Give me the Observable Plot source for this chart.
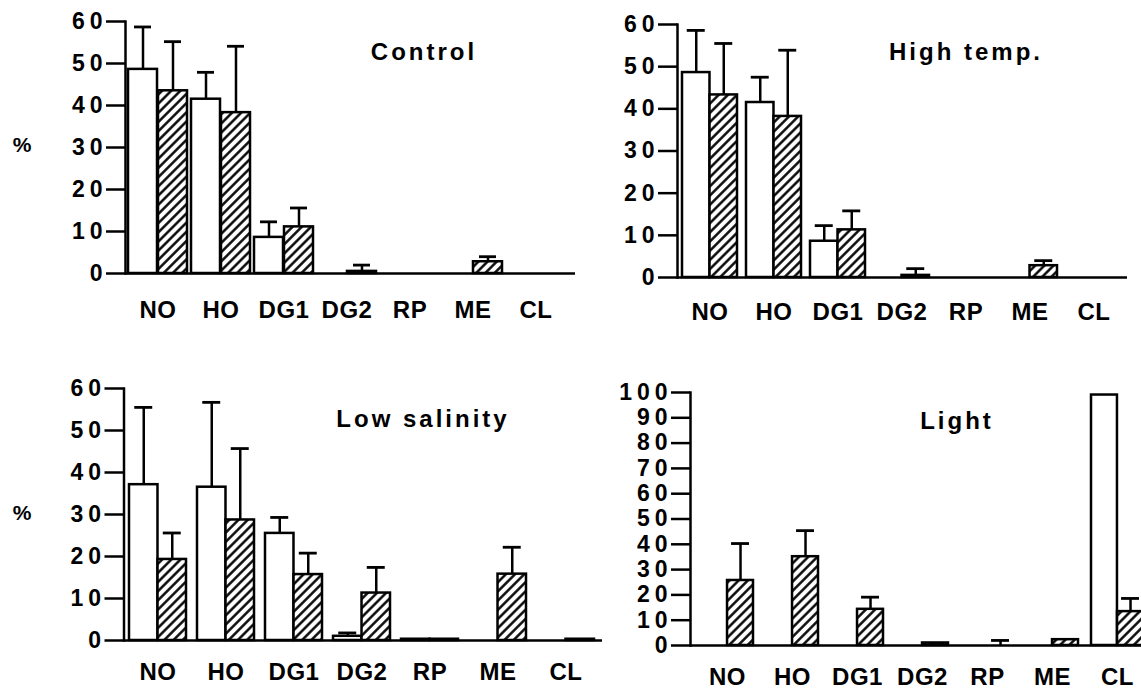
<!DOCTYPE html>
<html><head><meta charset="utf-8">
<script src="https://cdn.jsdelivr.net/npm/d3@7"></script>
<script src="https://cdn.jsdelivr.net/npm/@observablehq/plot@0.6"></script>
<style>
body{margin:0;background:#fff;}
#wrap{position:relative;width:1141px;height:693px;overflow:hidden;font-family:"Liberation Sans",Arial,Helvetica,sans-serif;}
.lbl{position:absolute;font-weight:bold;white-space:nowrap;line-height:1;color:#000;transform:translateX(-50%);}
</style></head><body>
<svg width="0" height="0" style="position:absolute"><defs>
<pattern id="hatch" patternUnits="userSpaceOnUse" width="6.5" height="6.5" patternTransform="rotate(45)">
<rect width="6.5" height="6.5" fill="white"/><line x1="3.25" y1="-1" x2="3.25" y2="7.5" stroke="black" stroke-width="2.4"/>
</pattern></defs></svg>
<div id="wrap"></div>
<script>
// ---- data ----
const categories = ["NO", "HO", "DG1", "DG2", "RP", "ME", "CL"];
const ticks60 = [0, 10, 20, 30, 40, 50, 60];
const ticks100 = [0, 10, 20, 30, 40, 50, 60, 70, 80, 90, 100];

const controlOpen     = [48.6, 41.5, 8.6, 0, 0, 0, 0];
const controlOpenSD   = [10.1, 6.4, 3.7, 0, 0, 0, 0];
const controlHatch    = [43.5, 38.3, 11.1, 0.5, 0, 2.8, 0];
const controlHatchSD  = [11.7, 15.8, 4.5, 1.5, 0, 1.2, 0];

const highOpen        = [48.6, 41.5, 8.6, 0, 0, 0, 0];
const highOpenSD      = [10.0, 6.0, 3.7, 0, 0, 0, 0];
const highHatch       = [43.3, 38.2, 11.3, 0.5, 0, 2.8, 0];
const highHatchSD     = [12.2, 15.7, 4.5, 1.6, 0, 1.2, 0];

const salOpen         = [37.1, 36.5, 25.5, 1.0, 0.3, 0, 0];
const salOpenSD       = [18.4, 20.2, 3.8, 0.8, 0, 0, 0];
const salHatch        = [19.3, 28.7, 15.7, 11.3, 0.3, 15.8, 0.3];
const salHatchSD      = [6.3, 17.0, 5.1, 6.1, 0, 6.4, 0];

const lightOpen       = [0, 0, 0, 0, 0, 0, 99];
const lightOpenSD     = [0, 0, 0, 0, 0, 0, 0];
const lightHatch      = [25.7, 35.1, 14.3, 1.0, 0, 2.3, 13.4];
const lightHatchSD    = [14.6, 10.3, 4.8, 0, 2.0, 0, 5.2];

const titles = ["Control", "High temp.", "Low salinity", "Light"];

// ---- layout ----
const W = 1141, H = 693;
const wrap = document.getElementById("wrap");

function panel(cfg, open, openSD, hatch, hatchSD, yTicks, yMax) {
  const n = categories.length;
  const step = (cfg.bandEnd - cfg.bandStart) / (n - cfg.pad);
  const bw = step * (1 - cfg.pad);
  const cap = 9;
  const rows = categories.map((c, i) => ({cat: c, o: open[i], os: openSD[i], h: hatch[i], hs: hatchSD[i]}));
  const oe = rows.filter(d => d.os > 0), he = rows.filter(d => d.hs > 0);
  const chart = Plot.plot({
    width: W, height: H,
    marginLeft: cfg.axisX, marginRight: W - cfg.baseEnd, marginTop: cfg.yTop, marginBottom: H - cfg.y0,
    x: {type: "band", domain: categories, range: [cfg.bandStart, cfg.bandEnd], paddingInner: cfg.pad, paddingOuter: 0, align: 0.5},
    y: {domain: [0, yMax]},
    style: {background: "transparent", overflow: "visible", fontFamily: '"Liberation Sans", Arial, sans-serif', color: "black"},
    marks: [
      Plot.barY(rows.filter(d => d.o > 0), {x: "cat", y: "o", fill: "white", stroke: "black", strokeWidth: 2.5, insetRight: bw / 2}),
      Plot.barY(rows.filter(d => d.h > 0), {x: "cat", y: "h", fill: "url(#hatch)", stroke: "black", strokeWidth: 2.5, insetLeft: bw / 2}),
      Plot.ruleY([0], {strokeWidth: 2.5}),
      Plot.frame({anchor: "left", strokeWidth: 2.5}),
      Plot.axisY({ticks: yTicks, tickSize: 19, tickPadding: -1, fontSize: 23, fontWeight: "bold", strokeWidth: 2.5, label: null, tickFormat: d => String(d)}),
      Plot.axisX({tickSize: 0, tickPadding: cfg.labelPad, fontSize: 24, fontWeight: "bold", label: null}),
      Plot.ruleX(oe, {x: "cat", y1: "o", y2: d => d.o + d.os, dx: -bw / 4, strokeWidth: 2.5}),
      Plot.tickY(oe, {x: "cat", y: d => d.o + d.os, insetLeft: bw / 4 - cap, insetRight: 3 * bw / 4 - cap, strokeWidth: 2.8}),
      Plot.ruleX(he, {x: "cat", y1: "h", y2: d => d.h + d.hs, dx: bw / 4, strokeWidth: 2.5}),
      Plot.tickY(he, {x: "cat", y: d => d.h + d.hs, insetLeft: 3 * bw / 4 - cap, insetRight: bw / 4 - cap, strokeWidth: 2.8})
    ]
  });
  chart.style.position = "absolute";
  chart.style.left = "0px";
  chart.style.top = "0px";
  chart.style.maxWidth = "none";
  d3.select(chart).selectAll('g[aria-label="y-axis tick label"] text').attr("letter-spacing", "5px");
  d3.select(chart).selectAll('g[aria-label="x-axis tick label"] text').attr("letter-spacing", "0.5px");
  wrap.appendChild(chart);

  const t = document.createElement("div");
  t.className = "lbl";
  t.textContent = cfg.title;
  t.style.fontSize = "24px";
  t.style.letterSpacing = "3px";
  t.style.left = cfg.titleX + "px";
  t.style.top = (cfg.titleTop - 3) + "px";
  wrap.appendChild(t);

  if (cfg.pct) {
    const p = document.createElement("div");
    p.className = "lbl";
    p.textContent = "%";
    p.style.fontSize = "21px";
    p.style.left = "22px";
    p.style.top = (cfg.pctTop - 3) + "px";
    wrap.appendChild(p);
  }
}

panel({axisX: 125, yTop: 21, y0: 273, baseEnd: 575, bandStart: 126, bandEnd: 567.6, pad: 0.057, labelPad: 27,
       title: titles[0], titleX: 424, titleTop: 43, pct: true, pctTop: 137},
      controlOpen, controlOpenSD, controlHatch, controlHatchSD, ticks60, 60);
panel({axisX: 677, yTop: 24, y0: 277, baseEnd: 1127, bandStart: 681, bandEnd: 1121.2, pad: 0.143, labelPad: 25,
       title: titles[1], titleX: 966, titleTop: 43, pct: false},
      highOpen, highOpenSD, highHatch, highHatchSD, ticks60, 60);
panel({axisX: 123.5, yTop: 388, y0: 640, baseEnd: 602, bandStart: 128, bandEnd: 594.8, pad: 0.165, labelPad: 22,
       title: titles[2], titleX: 423, titleTop: 410, pct: true, pctTop: 505},
      salOpen, salOpenSD, salHatch, salHatchSD, ticks60, 60);
panel({axisX: 690, yTop: 392, y0: 645, baseEnd: 1141, bandStart: 700.6, bandEnd: 1143.2, pad: 0.2, labelPad: 22,
       title: titles[3], titleX: 957, titleTop: 412, pct: false},
      lightOpen, lightOpenSD, lightHatch, lightHatchSD, ticks100, 100);
</script>
</body></html>
